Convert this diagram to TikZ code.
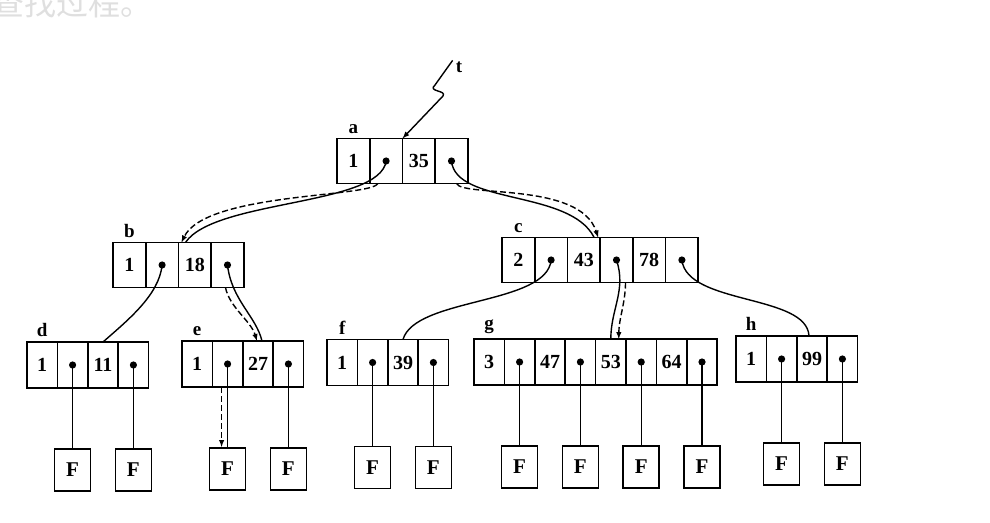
\documentclass[tikz,border=0pt]{standalone}
\usepackage{fontspec}
\setmainfont{Liberation Serif}
\newfontfamily\cjk{Noto Sans CJK SC}
\usepackage{tikz}
\usetikzlibrary{arrows, positioning}

\tikzset{
  cell/.style={draw, line width=1.6pt, minimum width=32.7pt, minimum height=45pt,
    inner sep=0pt, outer sep=0pt, font=\fontsize{20}{20}\selectfont\bfseries},
  lcell/.style={cell, minimum width=30.4pt, minimum height=46pt},
  fbox/.style={draw, line width=1.6pt, minimum width=36pt, minimum height=42pt,
    inner sep=0pt, font=\fontsize{21}{21}\selectfont\bfseries},
  lbl/.style={inner sep=1pt, font=\fontsize{19}{19}\selectfont\bfseries},
  link/.style={line width=1.4pt},
  search/.style={line width=1.4pt, dash pattern=on 6pt off 3pt, -latex}
}

% one B-tree node: name, cell style, place of first cell, keys
\newcommand{\bnode}[4]{%
  \foreach \k [count=\i] in {#4} {
    \pgfmathtruncatemacro\kc{2*\i-1}
    \pgfmathtruncatemacro\pc{2*\i}
    \ifnum\i=1
      \node[#2] (#1\kc) at (#3) {\k};
      \node[lbl, above=4pt of #1\kc] {#1};
    \else
      \pgfmathtruncatemacro\lc{2*\i-2}
      \node[#2, right=0pt of #1\lc] (#1\kc) {\k};
    \fi
    \node[#2, right=0pt of #1\kc] (#1\pc) {};
    \fill (#1\pc.center) circle (3.6pt);
  }
}

\begin{document}
\begin{tikzpicture}[x=1pt, y=-1pt]
\useasboundingbox (0,0) rectangle (990,522);
\clip (0,0) rectangle (990,522);

\node[anchor=base west, inner sep=0pt, text=gray!25, font=\cjk\fontsize{32}{32}\selectfont] (cap) at (-8,15) {查找过程。};

% nodes
\bnode{a}{cell}{353.4,161}{1,35}
\bnode{b}{cell}{129.4,265}{1,18}
\bnode{c}{cell}{518.4,260}{2,43,78}
\bnode{d}{lcell}{42.2,365}{1,11}
\bnode{e}{lcell}{197.2,364}{1,27}
\bnode{f}{lcell}{342.2,362.5}{1,39}
\bnode{g}{lcell}{489.2,362}{3,47,53,64}
\bnode{h}{lcell}{751.2,359}{1,99}

% failure leaves
\foreach \p in {d2,d4,e2,e4,f2,f4,g2,g4,g6,g8,h2,h4} {
  \node[fbox, below=60pt of \p] (\p F) {F};
  \draw[link] (\p.center) -- (\p F.north);
}

% root pointer
\node[lbl] (t) at (459,67) {t};
\draw[link, -latex] ([xshift=-2pt]t.north west) -- (435,85)
  .. controls (427,92) and (447,90) .. (443,96) -- (a3.north west);

% solid links
\draw[link] (a2.center) .. controls +(-6,45) and +(29,-43) .. ([xshift=7pt]b3.north west);
\draw[link] (a4.center) .. controls +(4,44) and +(-24,-48) .. ([xshift=-6pt]c3.north east);
\draw[link] (b2.center) .. controls +(-3,30) and +(25,-22) .. (d3.north);
\draw[link] (b4.center) .. controls +(4,35) and +(-6,-25) .. ([xshift=4pt]e3.north);
\draw[link] (c2.center) .. controls +(-4,45) and +(12,-42) .. (f3.north);
\draw[link] (c4.center) .. controls +(10,30) and +(0,-30) .. (g5.north);
\draw[link] (c6.center) .. controls +(5,45) and +(-2,-42) .. ([xshift=-3pt]h3.north);

% search path
\draw[search] ([xshift=8pt]a2.south west) .. controls +(-6,14) and +(24,-50) .. ([xshift=3pt]b3.north west);
\draw[search] ([xshift=5pt]a4.south) .. controls +(6,14) and +(-18,-56) .. ([xshift=-2pt]c3.north east);
\draw[search] ([xshift=-2pt]b4.south) .. controls +(4,20) and +(-6,-20) .. ([xshift=-1pt]e3.north);
\draw[search] ([xshift=9pt]c4.south) .. controls +(0,20) and +(0,-20) .. ([xshift=8pt]g5.north);
\draw[search] ([xshift=-6pt]e2.south) -- ([xshift=-6pt]e2F.north);
\end{tikzpicture}
\end{document}
